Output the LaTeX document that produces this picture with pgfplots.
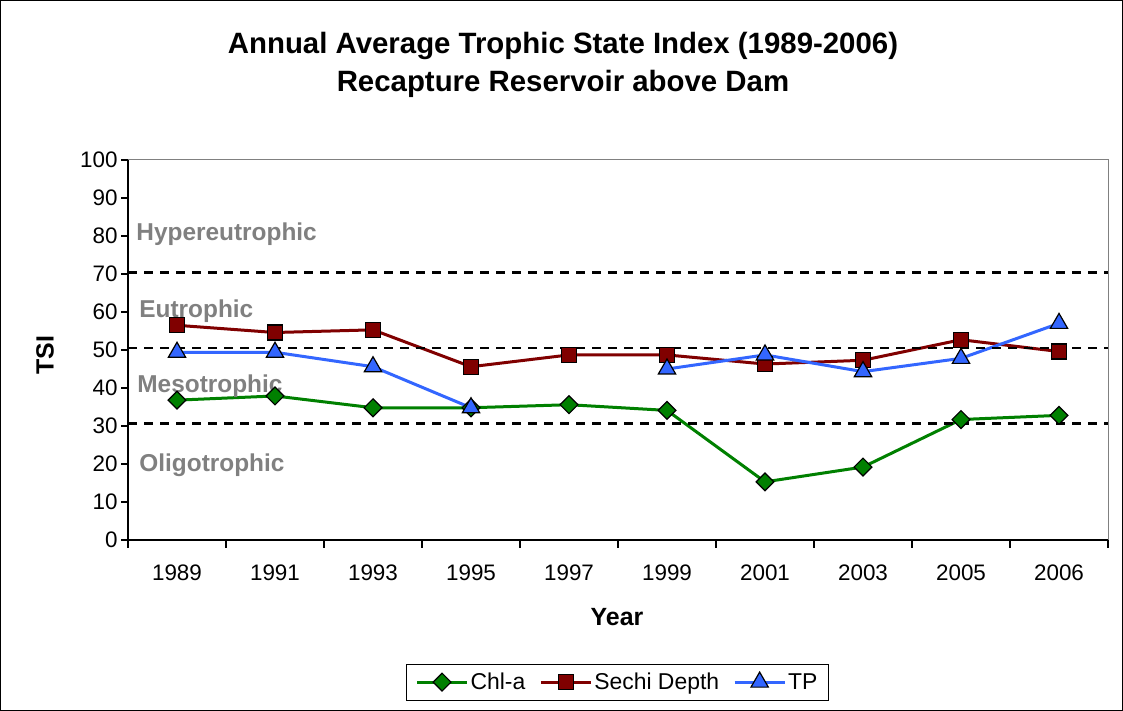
\documentclass[border=0pt]{standalone}
\usepackage{pgfplots}
\pgfplotsset{compat=1.18}
\usepackage{fontspec}
\setmainfont{Liberation Sans}
\definecolor{chlgreen}{RGB}{0,128,0}
\definecolor{secred}{RGB}{128,0,0}
\definecolor{tpblue}{RGB}{51,102,255}
\definecolor{lblgray}{RGB}{128,128,128}
\begin{document}
\begin{tikzpicture}[x=1bp,y=1bp]
\useasboundingbox (0,0) rectangle (1123,711);
\draw[line width=1.2bp] (0.6,0.6) rectangle (1122.4,710.4);
\node[font=\fontsize{29.5}{34}\selectfont\bfseries] at (563,665) {Annual Average Trophic State Index (1989-2006)};
\node[font=\fontsize{29.5}{34}\selectfont\bfseries] at (563,627) {Recapture Reservoir above Dam};
\node[font=\fontsize{25}{28}\selectfont\bfseries, rotate=90] at (45,356) {TSI};
\node[font=\fontsize{25}{28}\selectfont\bfseries] at (617,94) {Year};
\begin{axis}[
  at={(128bp,171bp)}, anchor=south west,
  scale only axis, width=980bp, height=380bp,
  xmin=-0.5, xmax=9.5, ymin=0, ymax=100,
  axis x line*=bottom, axis y line*=left,
  axis line style={black, line width=1.3bp, -},
  xtick={0,...,9},
  xticklabels={1989,1991,1993,1995,1997,1999,2001,2003,2005,2006},
  major x tick style={draw=none},
  minor xtick={-0.5,0.5,...,9.5},
  minor x tick style={black, line width=1.3bp},
  minor tick length=8bp,
  ytick={0,10,...,100},
  major tick length=7bp,
  y tick style={black, line width=1.3bp},
  tick align=outside,
  xticklabel style={yshift=-14bp},
  yticklabel style={xshift=0bp},
  ticklabel style={font=\fontsize{22.5}{25}\selectfont},
  /pgf/number format/assume math mode=true,
  unbounded coords=jump,
  clip=false,
  legend style={at={(0.4995,-0.374)}, anchor=center, legend columns=-1,
    draw=black, line width=1bp, font=\fontsize{23}{26}\selectfont,
    inner xsep=9bp, inner ysep=7bp,
    /tikz/every odd column/.append style={column sep=0bp},
    /tikz/every even column/.append style={column sep=12bp}},
  legend image code/.code={
    \draw[mark repeat=2, mark phase=2] plot coordinates {(0bp,0bp) (25bp,0bp) (50bp,0bp)};},
]
\draw[lblgray, line width=1bp] (rel axis cs:0,1) -- (rel axis cs:1,1) -- (rel axis cs:1,0);
\addplot[chlgreen, line width=3bp, mark=square*, mark size=6.3bp,
  mark options={rotate=45, fill=chlgreen, draw=black, line width=1.2bp}]
  coordinates {(0,36.8) (1,37.9) (2,34.8) (3,34.8) (4,35.6) (5,34.1) (6,15.3) (7,19.2) (8,31.7) (9,32.8)};
\addlegendentry{Chl-a}
\addplot[secred, line width=3bp, mark=square*, mark size=7.5bp,
  mark options={fill=secred, draw=black, line width=1.2bp}]
  coordinates {(0,56.5) (1,54.6) (2,55.3) (3,45.6) (4,48.7) (5,48.7) (6,46.3) (7,47.3) (8,52.7) (9,49.6)};
\addlegendentry{Sechi Depth}
\addplot[tpblue, line width=3bp, mark=triangle*, mark size=10bp,
  mark options={fill=tpblue, draw=black, line width=1.2bp}]
  coordinates {(0,49.4) (1,49.4) (2,45.6) (3,34.8) (4,nan) (5,45.0) (6,48.7) (7,44.3) (8,47.8) (9,57.0)};
\addlegendentry{TP}
\addplot[black, line width=2.6bp, dash pattern=on 9bp off 7bp, forget plot] coordinates {(-0.5,70.4) (9.5,70.4)};
\addplot[black, line width=2.6bp, dash pattern=on 9bp off 7bp, forget plot] coordinates {(-0.5,50.5) (9.5,50.5)};
\addplot[black, line width=2.6bp, dash pattern=on 9bp off 7bp, forget plot] coordinates {(-0.5,30.6) (9.5,30.6)};
\node[anchor=west, lblgray, font=\fontsize{24.5}{28}\selectfont\bfseries] at (axis cs:-0.45,80.5) {Hypereutrophic};
\node[anchor=west, lblgray, font=\fontsize{24.5}{28}\selectfont\bfseries] at (axis cs:-0.42,60.2) {Eutrophic};
\node[anchor=west, lblgray, font=\fontsize{24.5}{28}\selectfont\bfseries] at (axis cs:-0.44,40.4) {Mesotrophic};
\node[anchor=west, lblgray, font=\fontsize{24.5}{28}\selectfont\bfseries] at (axis cs:-0.42,19.8) {Oligotrophic};
\end{axis}
\end{tikzpicture}
\end{document}
